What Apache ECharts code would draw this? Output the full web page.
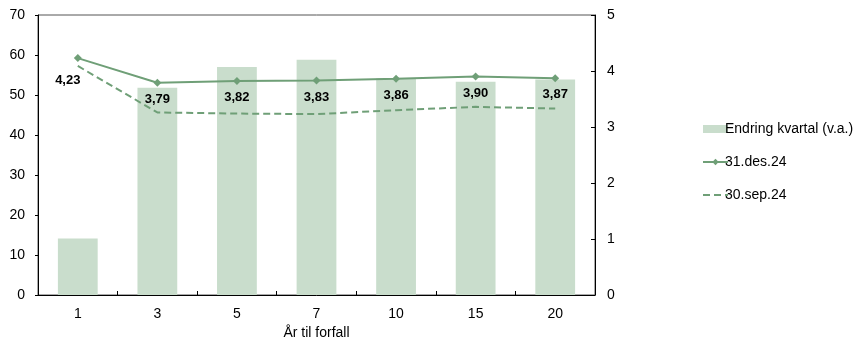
<!DOCTYPE html>
<html>
<head>
<meta charset="utf-8">
<script src="https://cdn.jsdelivr.net/npm/echarts@6/dist/echarts.min.js"></script>
<style>
  html, body { margin: 0; padding: 0; background: #fff; }
  #chart { width: 862px; height: 338px; }
</style>
</head>
<body>
<div id="chart"></div>
<script>
// Maturity buckets (years)
const categories = ['1', '3', '5', '7', '10', '15', '20'];
// Quarterly change, left axis
const endringKvartal = [14.1, 51.8, 57.0, 58.8, 54.2, 53.3, 53.9];
// Yield curves, right axis
const des24 = [4.23, 3.79, 3.82, 3.83, 3.86, 3.90, 3.87];
const sep24 = [4.09, 3.26, 3.24, 3.23, 3.30, 3.36, 3.33];
const leftTicks = [0, 10, 20, 30, 40, 50, 60, 70];
const rightTicks = [0, 1, 2, 3, 4, 5];

const font = '"Liberation Sans", Arial, sans-serif';
const green = '#6f9f77';
const barColor = '#c9ddcc';

const chart = echarts.init(document.getElementById('chart'), null, { renderer: 'canvas' });

chart.setOption({
  animation: false,
  textStyle: { fontFamily: font },
  grid: {
    left: 38, right: 267, top: 15, bottom: 43,
    outerBoundsMode: 'none',
    containLabel: false,
    show: true, borderColor: '#555', borderWidth: 1, backgroundColor: 'transparent'
  },
  legend: {
    orient: 'vertical',
    left: 697,
    top: 117,
    itemGap: 19,
    itemWidth: 25,
    itemHeight: 8,
    textStyle: { fontFamily: font, fontSize: 14, color: '#000', padding: [0, 0, 0, -8] },
    data: [
      { name: 'Endring kvartal (v.a.)', icon: 'rect' },
      { name: '31.des.24' },
      { name: '30.sep.24', itemStyle: { opacity: 0 } }
    ]
  },
  xAxis: {
    type: 'category',
    data: categories,
    name: 'År til forfall',
    nameLocation: 'middle',
    nameGap: 31,
    nameTextStyle: { fontFamily: font, fontSize: 14, color: '#000' },
    axisLine: { lineStyle: { color: '#000', width: 1 } },
    axisTick: { show: true, inside: true, length: 4, lineStyle: { color: '#000' } },
    axisLabel: { fontFamily: font, fontSize: 14, color: '#000', margin: 12 }
  },
  yAxis: [
    {
      type: 'value',
      min: leftTicks[0],
      max: leftTicks[leftTicks.length - 1],
      interval: 10,
      position: 'left',
      splitLine: { show: false },
      axisLine: { show: true, lineStyle: { color: '#000', width: 1 } },
      axisTick: { show: true, length: 3, lineStyle: { color: '#000' } },
      axisLabel: { fontFamily: font, fontSize: 14, color: '#000', margin: 13 }
    },
    {
      type: 'value',
      min: rightTicks[0],
      max: rightTicks[rightTicks.length - 1],
      interval: 1,
      position: 'right',
      splitLine: { show: false },
      axisLine: { show: true, lineStyle: { color: '#000', width: 1 } },
      axisTick: { show: true, inside: true, length: 4, lineStyle: { color: '#000' } },
      axisLabel: { fontFamily: font, fontSize: 14, color: '#000', margin: 12 }
    }
  ],
  series: [
    {
      name: 'Endring kvartal (v.a.)',
      type: 'bar',
      yAxisIndex: 0,
      data: endringKvartal,
      barWidth: '50%',
      itemStyle: { color: barColor }
    },
    {
      name: '30.sep.24',
      type: 'line',
      yAxisIndex: 1,
      data: sep24,
      symbol: 'none',
      lineStyle: { color: green, width: 2, type: [7, 4] },
      itemStyle: { color: green }
    },
    {
      name: '31.des.24',
      type: 'line',
      yAxisIndex: 1,
      data: des24.map((v, i) => i === 0
        ? { value: v, label: { offset: [-10, 6] } }
        : v),
      symbol: 'diamond',
      symbolSize: 8,
      lineStyle: { color: green, width: 2 },
      itemStyle: { color: green },
      label: {
        show: true,
        position: 'bottom',
        distance: 6,
        fontFamily: font,
        fontSize: 13,
        fontWeight: 'bold',
        color: '#000',
        formatter: p => p.value.toFixed(2).replace('.', ',')
      },
      z: 5
    }
  ]
});
</script>
</body>
</html>
